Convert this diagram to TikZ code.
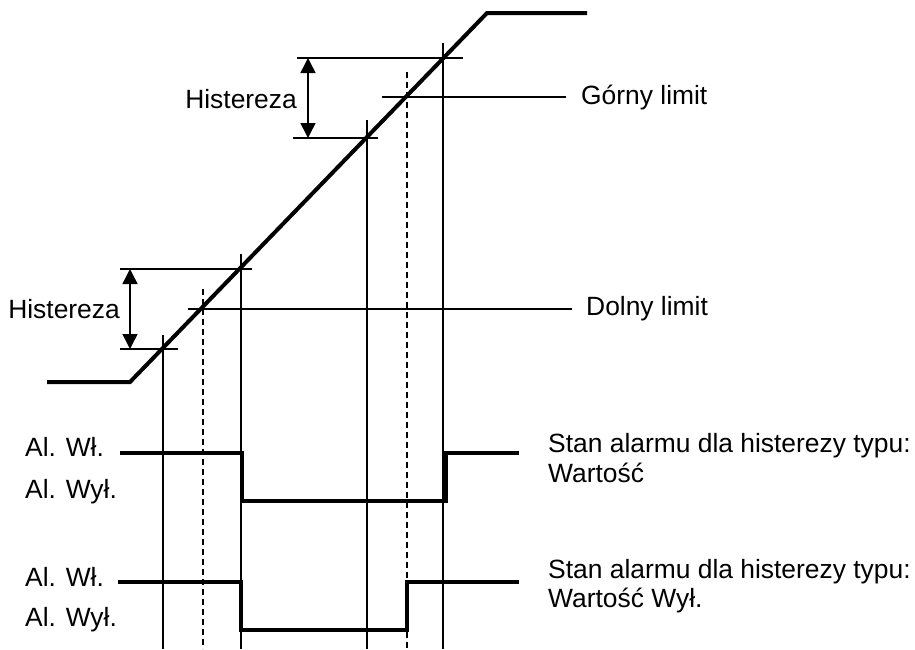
\documentclass[tikz,border=0pt]{standalone}
\usepackage{fontspec}
\setmainfont{Liberation Sans}
\usetikzlibrary{arrows.meta}
\begin{document}
\begin{tikzpicture}[x=1pt,y=-1pt,
  thin line/.style={line width=1.3pt},
  dash line/.style={line width=1.3pt,dash pattern=on 6pt off 4pt},
  curve/.style={line width=4pt},
  signal/.style={line width=3.5pt},
  lbl/.style={inner sep=0pt,font=\fontsize{26.4}{30}\selectfont},
  dimarrow/.style={line width=1.5pt,{Triangle[length=15pt,width=15pt]}-{Triangle[length=15pt,width=15pt]}}]
\useasboundingbox (0,0) rectangle (915,649);
% guide lines
\draw[thin line] (120,349) -- (178,349);
\draw[thin line] (120,269) -- (252,269);
\draw[thin line] (188,309) -- (572,309);
\draw[thin line] (297,58) -- (463,58);
\draw[thin line] (293,138) -- (378,138);
\draw[thin line] (382,97) -- (566,97);
\draw[thin line] (163,335) -- (163,649);
\draw[thin line] (241,254) -- (241,649);
\draw[thin line] (367,120) -- (367,649);
\draw[thin line] (443,43) -- (443,649);
\draw[dash line] (203,289) -- (203,649);
\draw[dash line] (407,72) -- (407,649);
% main curve
\coordinate (c0) at (47,382);
\coordinate (c1) at (130,382);
\coordinate (c2) at (487,13);
\coordinate (c3) at (587,13);
\draw[curve,line join=miter] (c0) -- (c1) -- (c2) -- (c3);
% hysteresis arrows
\coordinate (a1) at (130,269);
\coordinate (a2) at (130,349);
\coordinate (b1) at (308,58);
\coordinate (b2) at (308,138);
\draw[dimarrow] (a1) -- (a2);
\draw[dimarrow] (b1) -- (b2);
\node[lbl,anchor=east] (h1) at (120,309) {Histereza};
\node[lbl,anchor=east] (h2) at (297,99) {Histereza};
\node[lbl,anchor=west] (gl) at (581,98) {Górny limit};
\node[lbl,anchor=west] (dl) at (586,309) {Dolny limit};
% signals
\draw[signal,line join=miter] (120,453) -- (242,453) -- (242,501) -- (446,501) -- (446,453) -- (519,453);
\draw[signal,line join=miter] (118,582) -- (241,582) -- (241,630) -- (407,630) -- (407,582) -- (519,582);
\node[lbl,anchor=base west] (s1a) at (25,456) {Al. Wł.};
\node[lbl,anchor=base west] (s1b) at (25,498) {Al. Wył.};
\node[lbl,anchor=base west] (s2a) at (25,586) {Al. Wł.};
\node[lbl,anchor=base west] (s2b) at (25,626) {Al. Wył.};
\node[lbl,anchor=base west] (t1a) at (548,452) {Stan alarmu dla histerezy typu:};
\node[lbl,anchor=base west] (t1b) at (548,482) {Wartość};
\node[lbl,anchor=base west] (t2a) at (548,578) {Stan alarmu dla histerezy typu:};
\node[lbl,anchor=base west] (t2b) at (548,607) {Wartość Wył.};
\end{tikzpicture}
\end{document}
